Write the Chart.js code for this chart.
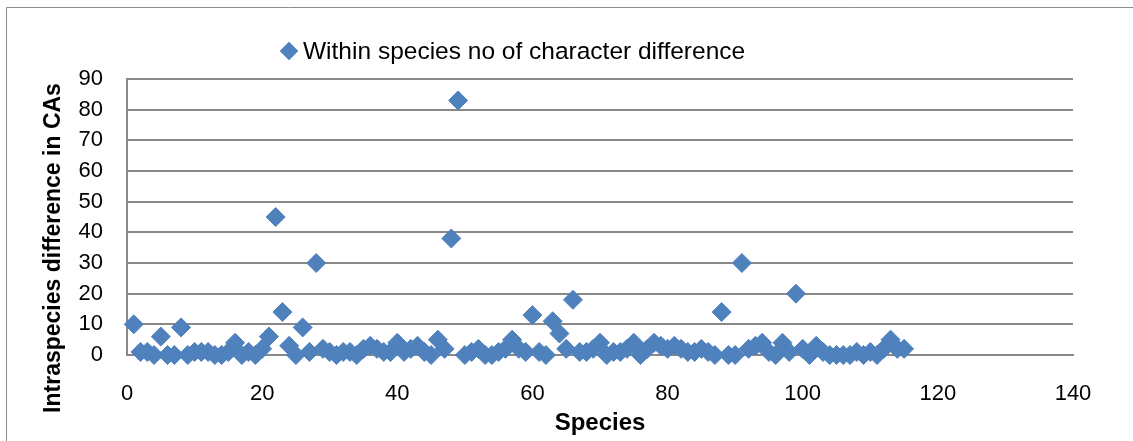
<!DOCTYPE html>
<html>
<head>
<meta charset="utf-8">
<script src="https://cdn.jsdelivr.net/npm/chart.js@4.4.0/dist/chart.umd.min.js"></script>
<style>
  html, body { margin: 0; padding: 0; background: #fff; }
  #wrap { position: relative; width: 1133px; height: 441px; }
</style>
</head>
<body>
<div id="wrap"><canvas id="speciesChart" width="1133" height="441"></canvas></div>
<script>
const seriesLabel = 'Within species no of character difference';
const xTitle = 'Species';
const yTitle = 'Intraspecies difference in CAs';

const species = [
  1, 2, 3, 4, 5, 6, 7, 8, 9, 10,
  11, 12, 13, 14, 15, 16, 17, 18, 19, 20,
  21, 22, 23, 24, 25, 26, 27, 28, 29, 30,
  31, 32, 33, 34, 35, 36, 37, 38, 39, 40,
  41, 42, 43, 44, 45, 46, 47, 48, 49, 50,
  51, 52, 53, 54, 55, 56, 57, 58, 59, 60,
  61, 62, 63, 64, 65, 66, 67, 68, 69, 70,
  71, 72, 73, 74, 75, 76, 77, 78, 79, 80,
  81, 82, 83, 84, 85, 86, 87, 88, 89, 90,
  91, 92, 93, 94, 95, 96, 97, 98, 99, 100,
  101, 102, 103, 104, 105, 106, 107, 108, 109, 110,
  111, 112, 113, 114, 115
];

const differences = [
  10, 1, 1, 0, 6, 0, 0, 9, 0, 1,
  1, 1, 0, 0, 1, 4, 0, 1, 0, 2,
  6, 45, 14, 3, 0, 9, 1, 30, 2, 1,
  0, 1, 1, 0, 2, 3, 2, 1, 1, 4,
  1, 2, 3, 1, 0, 5, 2, 38, 83, 0,
  1, 2, 0, 0, 1, 2, 5, 2, 1, 13,
  1, 0, 11, 7, 2, 18, 1, 1, 2, 4,
  0, 1, 1, 2, 4, 0, 2, 4, 3, 2,
  3, 2, 1, 1, 2, 1, 0, 14, 0, 0,
  30, 2, 3, 4, 1, 0, 4, 1, 20, 2,
  0, 3, 1, 0, 0, 0, 0, 1, 0, 1,
  0, 2, 5, 2, 2
];

const xTicks = { min: 0, max: 140, step: 20 };
const yTicks = { min: 0, max: 90, step: 10 };

const blue = '#4F81BD';
const gridGrey = '#898989';
const fontFamily = '"Liberation Sans", Arial, sans-serif';

const points = species.map((s, i) => ({ x: s, y: differences[i] }));

// outer frame, legend entry and rotated y-axis title
const chartDecor = {
  id: 'chartDecor',
  beforeDraw(chart) {
    const ctx = chart.ctx;
    ctx.save();
    ctx.strokeStyle = '#8c8c8c';
    ctx.lineWidth = 1;
    ctx.beginPath();
    ctx.moveTo(6.5, chart.height + 5);
    ctx.lineTo(6.5, 7.5);
    ctx.lineTo(chart.width + 5, 7.5);
    ctx.stroke();
    ctx.restore();
  },
  afterDraw(chart) {
    const ctx = chart.ctx;
    const ds = chart.data.datasets[0];
    ctx.save();
    Chart.helpers.drawPoint(ctx, {
      pointStyle: 'rectRot', radius: 8.5, borderWidth: 1, rotation: 0
    }, 289, 51);
    ctx.fillStyle = ds.backgroundColor;
    ctx.strokeStyle = ds.borderColor;
    ctx.fill();
    ctx.stroke();
    ctx.fillStyle = '#000';
    ctx.font = '24.5px ' + fontFamily;
    ctx.textBaseline = 'middle';
    ctx.textAlign = 'left';
    ctx.fillText(ds.label, 303, 52);

    ctx.translate(54, 248);
    ctx.rotate(-Math.PI / 2);
    ctx.font = 'bold 23px ' + fontFamily;
    ctx.textAlign = 'center';
    ctx.fillText(yTitle, 0, 0);
    ctx.restore();
  }
};

new Chart(document.getElementById('speciesChart').getContext('2d'), {
  type: 'scatter',
  data: {
    datasets: [{
      label: seriesLabel,
      data: points,
      pointStyle: 'rectRot',
      pointRadius: 9.5,
      pointHoverRadius: 9.5,
      backgroundColor: blue,
      borderColor: blue,
      borderWidth: 1,
      clip: false
    }]
  },
  options: {
    responsive: false,
    animation: false,
    devicePixelRatio: 1,
    layout: { padding: { top: 79, right: 60, left: 0, bottom: 0 } },
    plugins: {
      legend: { display: false },
      tooltip: { enabled: false }
    },
    scales: {
      x: {
        type: 'linear',
        min: xTicks.min,
        max: xTicks.max,
        ticks: {
          stepSize: xTicks.step,
          color: '#000',
          padding: 18,
          maxRotation: 0,
          font: { family: fontFamily, size: 22 }
        },
        grid: { display: false },
        border: { display: true, color: gridGrey, width: 2 },
        title: {
          display: true,
          text: xTitle,
          color: '#000',
          font: { family: fontFamily, size: 24, weight: 'bold' },
          padding: { top: 0, bottom: 3 }
        },
        afterFit(scale) { scale.height = 86; }
      },
      y: {
        min: yTicks.min,
        max: yTicks.max,
        ticks: {
          stepSize: yTicks.step,
          color: '#000',
          padding: 24,
          font: { family: fontFamily, size: 22 }
        },
        grid: { color: gridGrey, lineWidth: 2, drawTicks: false },
        border: { display: true, color: gridGrey, width: 2 },
        afterFit(scale) { scale.width = 127; }
      }
    }
  },
  plugins: [chartDecor]
});
</script>
</body>
</html>
